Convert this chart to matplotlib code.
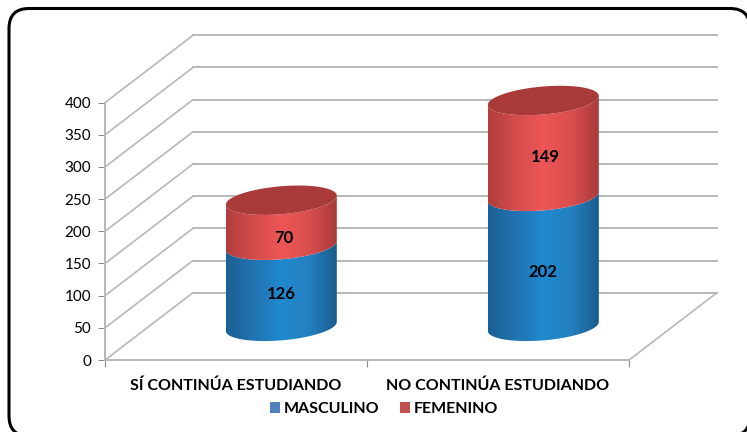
import numpy as np
import matplotlib
matplotlib.use('Agg')
import matplotlib.pyplot as plt
from matplotlib.colors import LinearSegmentedColormap
from matplotlib.patches import FancyBboxPatch, Patch, Polygon

categories = ['SÍ CONTINÚA ESTUDIANDO', 'NO CONTINÚA ESTUDIANDO']
masculino = [126, 202]
femenino = [70, 149]
y_ticks = [0, 50, 100, 150, 200, 250, 300, 350, 400]

W, H = 747, 432
# pixels per data unit, the whole figure is one axes
PX_X = 262
PX_Y = 257.4 / 400
X0, Y0 = 105, 360
DEPTH_X = 88 / PX_X
DEPTH_Y = 67.3 / PX_Y
RADIUS = 55.5 / PX_X
MINOR = 14 / PX_Y
TILT = 4.5 / PX_Y
GRID = '#b8b8b8'
# small vertical nudge of the value labels, in value units
NUDGE = [[-13, -24], [-17, -14]]

plt.rcParams['font.family'] = ['Lato', 'DejaVu Sans']

fig = plt.figure(figsize=(W / 100, H / 100), dpi=100)
ax = fig.add_axes([0, 0, 1, 1])
xlim = (-X0 / PX_X, (W - X0) / PX_X)
ylim = (-(H - Y0) / PX_Y, Y0 / PX_Y)
ax.patch.set_alpha(0)

# rounded frame in figure pixels, it runs off the right and bottom edges
frame = FancyBboxPatch((9 + 20, H - 436 + 20), 750 - 9 - 40, 436 - 8.5 - 40,
                       boxstyle='round,pad=20,rounding_size=20',
                       transform=None, fc='white', ec='black', lw=2.2, zorder=-5)
fig.add_artist(frame)

# back wall, side wall and floor
for v in y_ticks:
    ax.plot([0, DEPTH_X], [v, v + DEPTH_Y], color=GRID, lw=1.2, zorder=1)
    ax.plot([DEPTH_X, 2 + DEPTH_X], [v + DEPTH_Y, v + DEPTH_Y], color=GRID, lw=1.4, zorder=1)
ax.plot([2, 2 + DEPTH_X], [0, DEPTH_Y], color=GRID, lw=1.2, zorder=1)


def ring(cx, cy, start, stop):
    t = np.linspace(start, stop, 80)
    return np.column_stack([cx + RADIUS * np.cos(t),
                            cy + MINOR * np.sin(t) + TILT * np.cos(t)])


def side(cx, base, top, stops, z):
    cmap = LinearSegmentedColormap.from_list('side', stops)
    lower = ring(cx, base, np.pi, 2 * np.pi)
    upper = ring(cx, top, 2 * np.pi, np.pi)
    poly = Polygon(np.vstack([lower, upper]), closed=True, transform=ax.transData, fc='none', ec='none')
    ax.add_patch(poly)
    im = ax.imshow(np.linspace(0, 1, 256)[None, :], cmap=cmap, aspect='auto', zorder=z,
                   extent=(cx - RADIUS, cx + RADIUS, base - MINOR - TILT, top + MINOR + TILT))
    im.set_clip_path(poly)


blue_stops = ['#1c5f94', '#2273b0', '#2089cf', '#2480bf', '#1a5c8e']
red_stops = ['#b03d3d', '#d44c4c', '#ee5656', '#d94e4e', '#a93a3a']

for i in range(2):
    cx = i + 0.5 + DEPTH_X / 2 + 0.005
    floor = DEPTH_Y / 2
    side(cx, floor, floor + masculino[i], blue_stops, 3)
    side(cx, floor + masculino[i], floor + masculino[i] + femenino[i], red_stops, 4)
    top = floor + masculino[i] + femenino[i]
    ax.add_patch(Polygon(ring(cx, top, 0, 2 * np.pi), closed=True, fc='#a93a3a', ec='none', zorder=5))
    ax.text(cx, floor + masculino[i] / 2 + NUDGE[i][0], str(masculino[i]), ha='center', va='center',
            fontsize=12, fontweight='bold', color='black', zorder=6)
    ax.text(cx + 0.008, floor + masculino[i] + femenino[i] / 2 + NUDGE[i][1], str(femenino[i]), ha='center',
            va='center', fontsize=12, fontweight='bold', color='black', zorder=6)

ax.set_xlim(xlim)
ax.set_ylim(ylim)

# axes lines through the spines
for s in ['top', 'right']:
    ax.spines[s].set_visible(False)
ax.spines['left'].set_position(('data', 0))
ax.spines['left'].set_bounds(0, 400)
ax.spines['bottom'].set_position(('data', 0))
ax.spines['bottom'].set_bounds(0, 2)
for s in ['left', 'bottom']:
    ax.spines[s].set_color(GRID)
    ax.spines[s].set_linewidth(1.4)
ax.set_yticks(y_ticks)
ax.tick_params(axis='y', length=5, color='#8c8c8c', labelsize=11, pad=5)
ax.set_xticks([0, 1, 2])
ax.set_xticklabels(['', '', ''])
ax.tick_params(axis='x', which='major', length=5, color='#8c8c8c')
ax.set_xticks([0.5, 1.5], minor=True)
ax.set_xticklabels(categories, minor=True, fontsize=11.5, fontweight='bold')
ax.tick_params(axis='x', which='minor', length=0, pad=13.5)

handles = [Patch(fc='#4f81bd', label='MASCULINO'), Patch(fc='#c0504d', label='FEMENINO')]
fig.legend(handles=handles, loc='center', bbox_to_anchor=(384 / W, 1 - 409 / H), ncol=2, frameon=False,
           prop={'size': 11.5, 'weight': 'bold'}, handlelength=0.63, handleheight=0.63,
           handletextpad=0.25, columnspacing=1.3, borderpad=0)

fig.savefig('out.png', dpi=100)
